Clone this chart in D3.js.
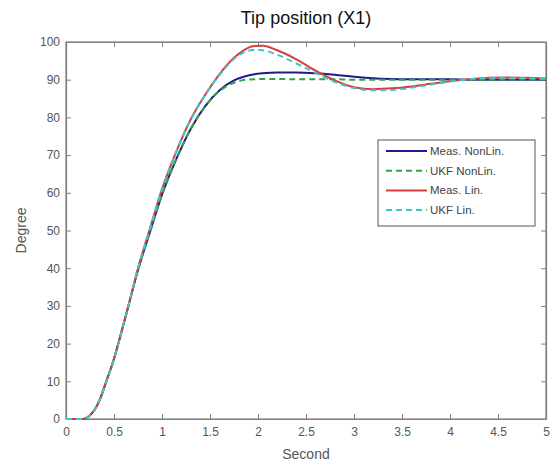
<!DOCTYPE html>
<html><head><meta charset="utf-8">
<script src="https://cdn.jsdelivr.net/npm/d3@7"></script>
<style>body{margin:0;background:#fff;}svg{display:block;font-family:"Liberation Sans",Arial,sans-serif;}</style>
</head><body>
<svg id="c" width="556" height="466"></svg>
<script>
const time = [0,0.1,0.18,0.25,0.3,0.35,0.42,0.5,0.55,0.65,0.75,0.88,1.0,1.15,1.3,1.45,1.6,1.75,1.85,1.95,2.05,2.2,2.4,2.6,2.8,3.0,3.2,3.4,3.6,3.8,4.0,4.2,4.4,4.6,4.8,5.0];
const measNonLin = [0,0,0,1,2.5,5,10,16,20.5,30,39.5,50,59.5,69,77,83,87.2,89.8,90.8,91.4,91.7,91.9,91.9,91.7,91.3,90.8,90.4,90.2,90.1,90.1,90.1,90,90,90,90,90];
const ukfNonLin = [0,0,0,1,2.5,5,10,16,20.5,30,39.5,50,59.5,69,77,83,87,89.2,89.9,90.1,90.2,90.2,90.1,90.1,90.1,90,90,90,90,90,90,90,90,90,90,90];
const measLin = [0,0,0,1,2.5,5,10,16,20.5,30,40,51,61,71,79.5,86,91.5,95.8,97.8,98.9,99,97.8,95.4,92.4,89.8,88,87.5,87.7,88.2,88.9,89.6,90.1,90.5,90.6,90.5,90.3];
const ukfLin = [0,0,0,1,2.5,5,10,16,20.5,30,40,51,61,71,79.5,86,91.3,95.5,97.2,97.9,97.8,96.6,94.3,91.8,89.4,87.8,87.2,87.3,87.9,88.7,89.5,90.1,90.4,90.5,90.4,90.2];
const seriesNames = ["Meas. NonLin.","UKF NonLin.","Meas. Lin.","UKF Lin."];
const xTicks = [0,0.5,1,1.5,2,2.5,3,3.5,4,4.5,5];
const yTicks = [0,10,20,30,40,50,60,70,80,90,100];

const series = [
  {name:seriesNames[0], values:measNonLin, color:"#1c1c8c", dash:null},
  {name:seriesNames[1], values:ukfNonLin, color:"#34a04a", dash:"6,4"},
  {name:seriesNames[2], values:measLin, color:"#d83c3c", dash:null},
  {name:seriesNames[3], values:ukfLin, color:"#3cc8c8", dash:"6,4"}
];

const svg = d3.select("#c");
const L=66,R=546,T=42,B=419;
const x = d3.scaleLinear().domain([0,5]).range([L,R]);
const y = d3.scaleLinear().domain([0,100]).range([B,T]);
const axisColor="#808080", textColor="#555";

svg.append("rect").attr("x",L).attr("y",T).attr("width",R-L).attr("height",B-T)
  .attr("fill","none").attr("stroke",axisColor).attr("stroke-width",1.2);

const gx = svg.append("g").attr("transform",`translate(0,${B})`)
  .call(d3.axisBottom(x).tickValues(xTicks).tickSizeInner(-5).tickSizeOuter(0).tickPadding(8).tickFormat(d3.format("")));
const gxt = svg.append("g").attr("transform",`translate(0,${T})`)
  .call(d3.axisTop(x).tickValues(xTicks).tickSizeInner(-5).tickSizeOuter(0).tickFormat(""));
const gy = svg.append("g").attr("transform",`translate(${L},0)`)
  .call(d3.axisLeft(y).tickValues(yTicks).tickSizeInner(-5).tickSizeOuter(0).tickPadding(6));
const gyr = svg.append("g").attr("transform",`translate(${R},0)`)
  .call(d3.axisRight(y).tickValues(yTicks).tickSizeInner(-5).tickSizeOuter(0).tickFormat(""));
[gx,gxt,gy,gyr].forEach(g=>{
  g.select(".domain").attr("stroke",axisColor).attr("stroke-width",1.2);
  g.selectAll(".tick line").attr("stroke",axisColor);
  g.selectAll(".tick text").attr("fill",textColor).style("font-size","12px").style("font-family","Liberation Sans, Arial, sans-serif");
});

const line = d3.line().x((d,i)=>x(time[i])).y(d=>y(d)).curve(d3.curveMonotoneX);
const plot = svg.append("g");
series.forEach(s=>{
  plot.append("path").datum(s.values).attr("d",line)
    .attr("fill","none").attr("stroke",s.color).attr("stroke-width",2)
    .attr("stroke-dasharray",s.dash);
});

svg.append("text").attr("x",(L+R)/2).attr("y",24).attr("text-anchor","middle")
  .attr("fill","#111").style("font-size","18px").text("Tip position (X1)");
svg.append("text").attr("x",(L+R)/2).attr("y",459).attr("text-anchor","middle")
  .attr("fill",textColor).style("font-size","14px").text("Second");
svg.append("text").attr("transform",`translate(26,${(T+B)/2}) rotate(-90)`).attr("text-anchor","middle")
  .attr("fill",textColor).style("font-size","14px").text("Degree");

const lg = svg.append("g");
lg.append("rect").attr("x",378).attr("y",140).attr("width",157).attr("height",86)
  .attr("fill","#fff").attr("stroke","#555").attr("stroke-width",1);
series.forEach((s,i)=>{
  const yy = 151 + i*19.7;
  lg.append("line").attr("x1",386).attr("x2",427).attr("y1",yy).attr("y2",yy)
    .attr("stroke",s.color).attr("stroke-width",2).attr("stroke-dasharray",s.dash);
  lg.append("text").attr("x",430).attr("y",yy+4).attr("fill","#444")
    .style("font-size","11.5px").text(s.name);
});
</script>
</body></html>
